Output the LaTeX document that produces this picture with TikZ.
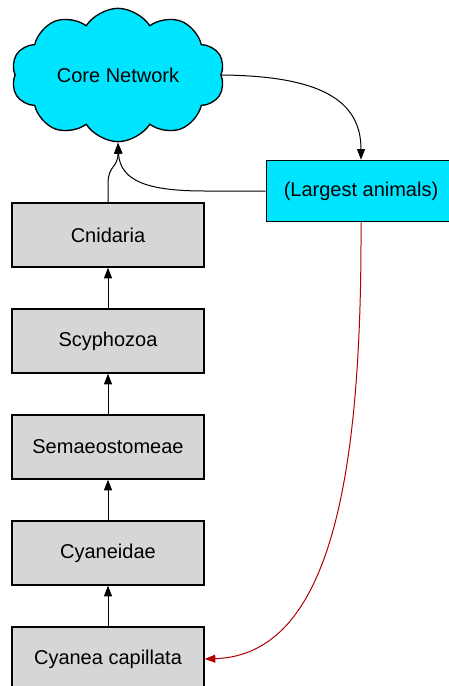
\documentclass[tikz,border=0pt]{standalone}
\usepackage{fontspec}
\setmainfont{Liberation Sans}
\usepackage{tikz}
\usetikzlibrary{shapes.symbols, arrows.meta}
\definecolor{cloudcyan}{HTML}{00E5FF}
\definecolor{boxgray}{HTML}{D6D6D6}
\definecolor{linkred}{HTML}{B00000}
\tikzset{taxon/.style={draw=black, fill=boxgray, line width=1pt, minimum width=144pt, minimum height=48pt, font=\fontsize{15}{18}\selectfont},
         groupbox/.style={draw=black, fill=cloudcyan, line width=1pt, minimum width=142pt, minimum height=46pt, font=\fontsize{15}{18}\selectfont},
         up/.style={-{Triangle[length=8pt, width=6pt]}, line width=0.75pt}}
\begin{document}
\begin{tikzpicture}[x=0.75pt, y=-0.75pt]
                 \useasboundingbox (0,0) rectangle (449,686);

                 % the cloud
                 \node[cloud, cloud puffs=10, cloud puff arc=115, aspect=1.6, draw=black, fill=cloudcyan, line width=1pt,
                       minimum width=160pt, minimum height=100pt, inner sep=0pt, font=\fontsize{15}{18}\selectfont] (core) at (118,75) {Core Network};
                 \coordinate (hub) at (118,143);

                 % the chain of taxa
                 \node[taxon] (cnid)  at (108,235) {Cnidaria};
                 \node[taxon] (scyph) at (108,341) {Scyphozoa};
                 \node[taxon] (semae) at (108,447) {Semaeostomeae};
                 \node[taxon] (cyan)  at (108,553) {Cyaneidae};
                 \node[taxon] (capil) at (108,659) {Cyanea capillata};

                 \node[groupbox] (big) at (361,191) {(Largest animals)};

                 \draw[up] (capil) -- (cyan);
                 \draw[up] (cyan) -- (semae);
                 \draw[up] (semae) -- (scyph);
                 \draw[up] (scyph) -- (cnid);

%                 into the cloud
                 \draw[up] (cnid.north) -- (108,184) .. controls (108,165) and (118,168) .. (hub);
                 \draw[up] (big.west) -- (205,191) .. controls (150,191) and (120,182) .. (hub);
                 \draw[up] (core.east) .. controls (320,76) and (361,100) .. (big.north);

                 \draw[up, draw=linkred] (big.south) .. controls (362,480) and (330,655) .. (capil.east);

                 \end{tikzpicture}
\end{document}
